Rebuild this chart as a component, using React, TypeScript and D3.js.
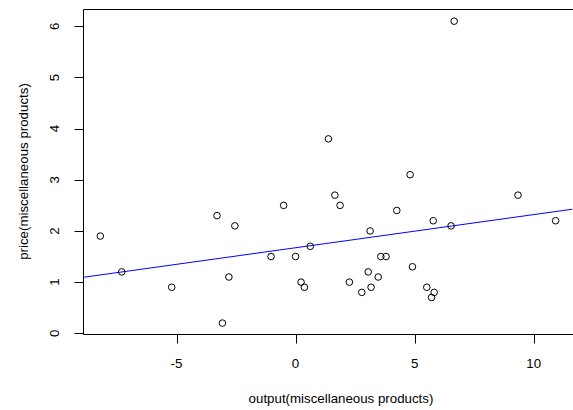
import React from "react";
import * as d3 from "d3";

const outputX: number[] = [
  -8.2, -7.3, -5.2, -3.3, -2.55, -2.8, -3.07, -1.03, -0.5, 0.0, 0.23, 0.37,
  0.62, 1.38, 1.65, 1.87, 2.26, 2.78, 3.05, 3.13, 3.17, 3.47, 3.58, 3.8, 4.25,
  4.81, 4.91, 5.51, 5.71, 5.78, 5.82, 6.53, 6.66, 9.34, 10.92,
];
const priceY: number[] = [
  1.9, 1.2, 0.9, 2.3, 2.1, 1.1, 0.2, 1.5, 2.5, 1.5, 1.0, 0.9, 1.7, 3.8, 2.7,
  2.5, 1.0, 0.8, 1.2, 2.0, 0.9, 1.1, 1.5, 1.5, 2.4, 3.1, 1.3, 0.9, 0.7, 2.2,
  0.8, 2.1, 6.1, 2.7, 2.2,
];
const xTicks: number[] = [-5, 0, 5, 10];
const yTicks: number[] = [0, 1, 2, 3, 4, 5, 6];
const fitIntercept = 1.672;
const fitSlope = 0.0648;
const xLabel = "output(miscellaneous products)";
const yLabel = "price(miscellaneous products)";

const W = 573;
const H = 410;
const L = 83.5;
const R = 572.5;
const T = 9.5;
const B = 334.5;

export default function App() {
  const x = d3.scaleLinear().domain([-5, 10]).range([176.5, 533.7]);
  const y = d3.scaleLinear().domain([0, 6]).range([333.3, 26.3]);
  const x0 = x.invert(L);
  const x1 = x.invert(R);
  const line = d3
    .line<number>()
    .x((d) => x(d))
    .y((d) => y(fitIntercept + fitSlope * d));
  const font = "'Liberation Sans', Arial, sans-serif";
  return (
    <svg
      width={W}
      height={H}
      style={{ position: "absolute", left: 0, top: 0, background: "#fff" }}
      fontFamily={font}
    >
      <defs>
        <clipPath id="plotclip">
          <rect x={L} y={T} width={R - L} height={B - T} />
        </clipPath>
      </defs>
      <rect x={0} y={0} width={W} height={H} fill="#fff" />
      <path
        d={`M${W},${T} H${L} V${B} H${W}`}
        fill="none"
        stroke="#000"
        strokeWidth={1}
      />
      {xTicks.map((t) => (
        <g key={"xt" + t}>
          <line
            x1={Math.round(x(t)) + 0.5}
            x2={Math.round(x(t)) + 0.5}
            y1={B}
            y2={B + 9}
            stroke="#000"
          />
          <text
            x={x(t)}
            y={368.3}
            textAnchor="middle"
            fontSize={13.3}
            fill="#000"
          >
            {t < 0 ? "-" + Math.abs(t) : String(t)}
          </text>
        </g>
      ))}
      {yTicks.map((t) => (
        <g key={"yt" + t}>
          <line
            x1={L - 9}
            x2={L}
            y1={Math.round(y(t)) + 0.5}
            y2={Math.round(y(t)) + 0.5}
            stroke="#000"
          />
          <text
            transform={`translate(59.3,${y(t)}) rotate(-90)`}
            textAnchor="middle"
            fontSize={13.3}
            fill="#000"
          >
            {String(t)}
          </text>
        </g>
      ))}
      <text x={341} y={403.3} textAnchor="middle" fontSize={13.3} fill="#000">
        {xLabel}
      </text>
      <text
        transform={`translate(28,171.5) rotate(-90)`}
        textAnchor="middle"
        fontSize={13.3}
        fill="#000"
      >
        {yLabel}
      </text>
      <g clipPath="url(#plotclip)">
        <path
          d={line([x0, x1]) || ""}
          fill="none"
          stroke="#0000ff"
          strokeWidth={1}
        />
      </g>
      {outputX.map((v, i) => (
        <circle
          key={"p" + i}
          cx={x(v)}
          cy={y(priceY[i])}
          r={3.3}
          fill="none"
          stroke="#000"
          strokeWidth={1}
        />
      ))}
    </svg>
  );
}
